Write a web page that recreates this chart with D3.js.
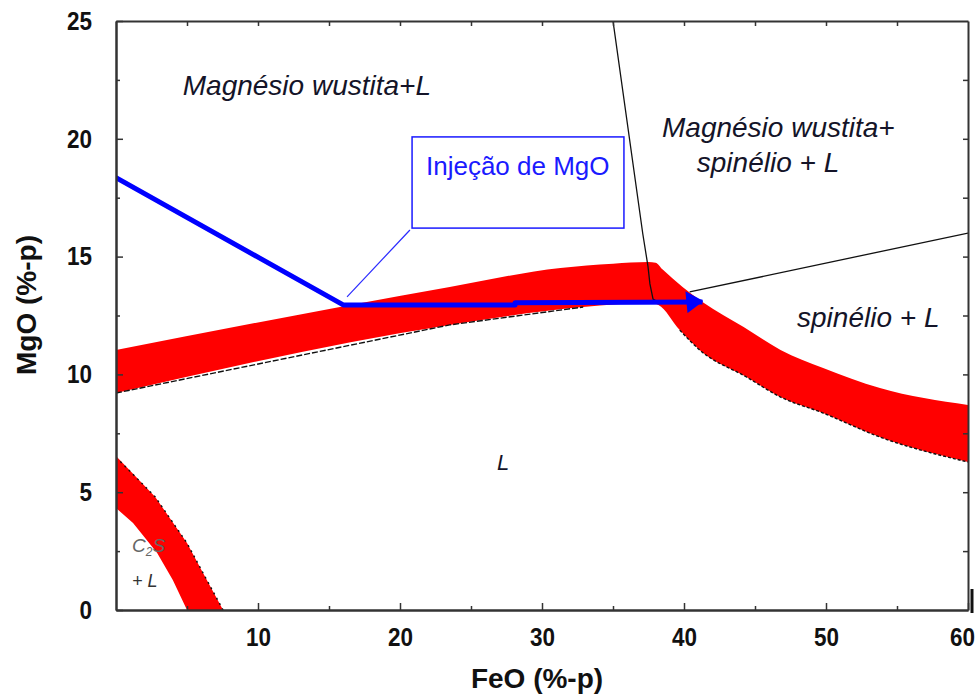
<!DOCTYPE html>
<html>
<head>
<meta charset="utf-8">
<script src="https://cdn.jsdelivr.net/npm/d3@7"></script>
<style>
  html, body { margin: 0; padding: 0; background: #fff; }
  svg { display: block; }
  .tick text { font-family: "Liberation Sans", Arial, sans-serif; font-weight: bold; font-size: 26px; fill: #111; }
  .region { font-family: "Liberation Sans", Arial, sans-serif; font-style: italic; fill: #141428; }
</style>
</head>
<body>
<svg id="chart" width="978" height="695"></svg>
<script>
// ---------- data (FeO %-p, MgO %-p) ----------
const xTickValues = [10, 20, 30, 40, 50, 60];
const xMinorTicks = [5, 15, 25, 35, 45, 55];
const yTickValues = [0, 5, 10, 15, 20, 25];
const yMinorTicks = [2.5, 7.5, 12.5, 17.5, 22.5];
const topTicks = [5, 10, 15, 20, 25, 30, 35, 40, 45, 50, 55];
const rightTicks = [2.5, 5, 7.5, 10, 12.5, 15, 17.5, 20, 22.5];

const mainBandUpper = [[0,11.04],[23.5,13.71],[31.3,14.52],[35.0,14.7],[37.5,14.77],[38.0,14.74],[38.5,14.45],[41.3,13.07],[44.2,12.01],[46.8,11.04],[49.8,10.27],[53.8,9.42],[60,8.7]];
const mainBandLower = [[0,9.21],[23.5,12.1],[32.9,12.86],[37.6,13.03],[38.2,12.95],[39.7,11.88],[41.1,11.04],[44.4,9.89],[46.8,9.04],[49.8,8.36],[53.8,7.34],[60,6.28]];
const smallBandUpper = [[0,6.54],[2.75,4.81],[5.0,2.84],[6.13,1.57],[7.54,0]];
const smallBandLower = [[0,4.33],[1.2,3.69],[2.9,2.42],[4.0,1.27],[5.0,0]];

const lowerLeftBoundary = [[0,9.21],[23.5,12.1],[32.9,12.86]];
const wustiteLine = [[35.0,25],[37.1,15.96],[37.46,14.6],[37.6,13.84],[37.82,13.2],[38.17,13.07]];
const spinelLine = [[40.4,13.5],[60,16.0]];
const lowerRightBoundary = [[39.7,11.88],[41.1,11.04],[44.4,9.89],[46.8,9.04],[49.8,8.36],[53.8,7.34],[60,6.28]];
const c2sBoundary = [[0.3,6.3],[2.75,4.81],[5.0,2.84],[6.13,1.57],[7.54,0]];

const injectionPath = [[0,18.35],[16.0,12.95],[28.1,12.95],[28.1,13.04],[41.3,13.07]];

const regionLabels = [
  { text: "Magnésio wustita+L", x: 4.7, y: 21.86, size: 28 },
  { text: "Magnésio wustita+", x: 38.45, y: 20.08, size: 28 },
  { text: "spinélio + L", x: 40.9, y: 18.59, size: 28 },
  { text: "spinélio + L", x: 47.96, y: 12.01, size: 28 },
  { text: "L", x: 26.83, y: 5.94, size: 22 }
];
const annotationBox = { x0: 20.85, y0: 20.08, x1: 35.77, y1: 16.21, text: "Injeção de MgO", tx: 21.83, ty: 18.46 };
const leaderLine = [[16.27,13.29],[20.7,16.13]];

// ---------- layout ----------
const W = 978, H = 695;
const margin = { left: 116, top: 21, right: 10, bottom: 85 };
const svg = d3.select("#chart");
const x = d3.scaleLinear().domain([0, 60]).range([margin.left, W - margin.right]);
const y = d3.scaleLinear().domain([0, 25]).range([H - margin.bottom, margin.top]);

const defs = svg.append("defs");
defs.append("clipPath").attr("id", "plotClip")
  .append("rect").attr("x", x(0)).attr("y", y(25)).attr("width", x(60) - x(0)).attr("height", y(0) - y(25));

const plot = svg.append("g").attr("clip-path", "url(#plotClip)");
const line = d3.line().x(d => x(d[0])).y(d => y(d[1]));
const smooth = d3.line().x(d => x(d[0])).y(d => y(d[1])).curve(d3.curveMonotoneX);

function bandPath(upper, lower, gen) {
  const up = gen(upper);
  const low = gen(lower.slice().reverse());
  return up + "L" + low.slice(1) + "Z";
}
plot.append("path").attr("d", bandPath(mainBandUpper, mainBandLower, smooth)).attr("fill", "#ff0000");
plot.append("path").attr("d", bandPath(smallBandUpper, smallBandLower, line)).attr("fill", "#ff0000");

plot.append("path").attr("d", line(lowerLeftBoundary)).attr("fill", "none").attr("stroke", "#111").attr("stroke-width", 1.4).attr("stroke-dasharray", "6,2");
plot.append("path").attr("d", line(wustiteLine)).attr("fill", "none").attr("stroke", "#111").attr("stroke-width", 1.3);
plot.append("path").attr("d", line(spinelLine)).attr("fill", "none").attr("stroke", "#111").attr("stroke-width", 1.3);
plot.append("path").attr("d", smooth(lowerRightBoundary)).attr("fill", "none").attr("stroke", "#111").attr("stroke-width", 1.4).attr("stroke-dasharray", "3,2");
plot.append("path").attr("d", line(c2sBoundary)).attr("fill", "none").attr("stroke", "#111").attr("stroke-width", 1.4).attr("stroke-dasharray", "2,4");

// arrow marker
defs.append("marker")
  .attr("id", "arrow").attr("markerUnits", "userSpaceOnUse")
  .attr("viewBox", "0 0 18 22").attr("refX", 17).attr("refY", 11)
  .attr("markerWidth", 18).attr("markerHeight", 22).attr("orient", "auto")
  .append("path").attr("d", "M0,0 L18,10 L2,22 Z").attr("fill", "#0000ff");

plot.append("path").attr("d", line(injectionPath)).attr("fill", "none")
  .attr("stroke", "#0000ff").attr("stroke-width", 5).attr("stroke-linejoin", "round")
  .attr("marker-end", "url(#arrow)");

// annotation
svg.append("line").attr("x1", x(leaderLine[0][0])).attr("y1", y(leaderLine[0][1]))
  .attr("x2", x(leaderLine[1][0])).attr("y2", y(leaderLine[1][1]))
  .attr("stroke", "#2a2aff").attr("stroke-width", 1.2);
svg.append("rect").attr("x", x(annotationBox.x0)).attr("y", y(annotationBox.y0))
  .attr("width", x(annotationBox.x1) - x(annotationBox.x0)).attr("height", y(annotationBox.y1) - y(annotationBox.y0))
  .attr("fill", "#fff").attr("stroke", "#1a1aff").attr("stroke-width", 1.5);
svg.append("text").attr("x", x(annotationBox.tx)).attr("y", y(annotationBox.ty))
  .attr("font-family", "'Liberation Sans', Arial, sans-serif").attr("font-size", 26)
  .attr("fill", "#1a1aff").text(annotationBox.text);

// region labels
regionLabels.forEach(l => {
  svg.append("text").attr("class", "region").attr("x", x(l.x)).attr("y", y(l.y))
    .attr("font-size", l.size).text(l.text);
});
const c2s = svg.append("text").attr("class", "region").attr("x", x(1.13)).attr("y", y(2.46))
  .attr("font-size", 19).style("fill", "#666");
c2s.append("tspan").text("C");
c2s.append("tspan").attr("font-size", 12).attr("dy", 4).text("2");
c2s.append("tspan").attr("dy", -4).text("S");
svg.append("text").attr("class", "region").attr("x", x(1.13)).attr("y", y(0.98))
  .attr("font-size", 18).style("fill", "#333").text("+ L");

// ---------- axes ----------
const axisColor = "#333";
function styleAxis(g) {
  g.select(".domain").attr("stroke", axisColor).attr("stroke-width", 2);
  g.selectAll(".tick line").attr("stroke", axisColor).attr("stroke-width", 1.5);
  g.selectAll(".tick text")
    .attr("textLength", d => String(d).length * 12.5)
    .attr("lengthAdjust", "spacingAndGlyphs");
}
const gx = svg.append("g").attr("transform", `translate(0,${y(0)})`)
  .call(d3.axisBottom(x).tickValues(xTickValues).tickSize(-7).tickPadding(18).tickSizeOuter(0));
styleAxis(gx);
gx.selectAll(".tick text").attr("dx", d => d === 60 ? -6 : 0);
const gxm = svg.append("g").attr("transform", `translate(0,${y(0)})`)
  .call(d3.axisBottom(x).tickValues(xMinorTicks).tickSize(-4).tickFormat("").tickSizeOuter(0));
styleAxis(gxm);
const gy = svg.append("g").attr("transform", `translate(${x(0)},0)`)
  .call(d3.axisLeft(y).tickValues(yTickValues).tickSize(-7).tickPadding(24).tickSizeOuter(0));
styleAxis(gy);
const gym = svg.append("g").attr("transform", `translate(${x(0)},0)`)
  .call(d3.axisLeft(y).tickValues(yMinorTicks).tickSize(-4).tickFormat("").tickSizeOuter(0));
styleAxis(gym);
const gt = svg.append("g").attr("transform", `translate(0,${y(25)})`)
  .call(d3.axisTop(x).tickValues(topTicks).tickSize(-5).tickFormat("").tickSizeOuter(0));
styleAxis(gt);
const gr = svg.append("g").attr("transform", `translate(${x(60)},0)`)
  .call(d3.axisRight(y).tickValues(rightTicks).tickSize(-5).tickFormat("").tickSizeOuter(0));
styleAxis(gr);

// small end mark at bottom right
svg.append("line").attr("x1", x(60) + 4).attr("x2", x(60) + 4).attr("y1", y(0) - 21).attr("y2", y(0) + 3)
  .attr("stroke", "#111").attr("stroke-width", 3);

// axis titles
svg.append("text").attr("x", 537).attr("y", 688).attr("text-anchor", "middle")
  .attr("font-family", "'Liberation Sans', Arial, sans-serif").attr("font-weight", "bold").attr("font-size", 28)
  .attr("fill", "#111").text("FeO (%-p)");
svg.append("text").attr("transform", "translate(36,305) rotate(-90)").attr("text-anchor", "middle")
  .attr("font-family", "'Liberation Sans', Arial, sans-serif").attr("font-weight", "bold").attr("font-size", 28)
  .attr("fill", "#111").text("MgO (%-p)");
</script>
</body>
</html>
